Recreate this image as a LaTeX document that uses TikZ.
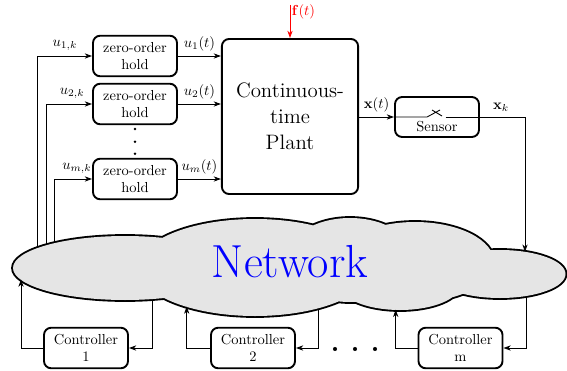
\documentclass[tikz,border=0pt]{standalone}
\usetikzlibrary{arrows.meta,positioning}

% lobes of the network cloud
\newcommand\netlobes{(125,102) ellipse [x radius=112,y radius=32]
 (255,102.5) ellipse [x radius=117,y radius=48.5]
 (350,110) ellipse [x radius=65,y radius=42]
 (415,108) ellipse [x radius=79,y radius=40]
 (400,85) ellipse [x radius=60,y radius=25]
 (500,96) ellipse [x radius=65.5,y radius=24]}

\begin{document}
\begin{tikzpicture}[x=0.69pt,y=0.69pt,>={Stealth[length=5pt,width=3.6pt,inset=1.5pt]},
 block/.style={draw,line width=1.3pt,rounded corners=5pt,align=center,minimum width=58pt,minimum height=28pt},
 flow/.style={->,line width=.6pt}]
\useasboundingbox (0,0) rectangle (567,370);

% hold elements and plant
\node[block] (zoh1) at (135,314) {zero-order\\hold};
\node[block] (zoh2) at (135,266) {zero-order\\hold};
\node[block] (zohm) at (135,191) {zero-order\\hold};
\foreach \y in {129,141.7,153.7} \fill (135,{370-\y}) circle (1pt);
\node[block,minimum width=94pt,minimum height=107pt,font=\Large] (plant) at (290,253.5) {Continuous-\\time\\Plant};
\node[block,minimum width=58pt,minimum height=27.6pt] (sensor) at (437,253) {\mbox{}\\[8pt]Sensor};

% controllers
\node[block] (ctrl1) at (86,22) {Controller\\1};
\node[block] (ctrl2) at (253,22) {Controller\\2};
\node[block] (ctrlm) at (460.5,22) {Controller\\m};
\foreach \x in {335,355,375} \fill (\x,21) circle (1.4pt);

% ports on the network
\coordinate (n1) at (37.7,105);
\coordinate (n2) at (46.7,105);
\coordinate (n3) at (54.3,105);
\coordinate (c1out) at (152.3,76);
\coordinate (c2out) at (318,75);
\coordinate (cmout) at (526.7,80);
\coordinate (c1in) at (21,90.5);
\coordinate (c2in) at (186.7,63.5);
\coordinate (cmin) at (395.7,60.3);
\coordinate (xk) at (525,118.2);
\coordinate (fin) at (290,365);

\draw[flow] (n1) |- node[above,pos=.75]{$u_{1,k}$} (zoh1.west);
\draw[flow] (n2) |- node[above,pos=.78]{$u_{2,k}$} (zoh2.west);
\draw[flow] (n3) |- node[above,pos=.8]{$u_{m,k}$} (zohm.west);
\draw[flow] (c1out) |- (ctrl1.east);
\draw[flow] (c2out) |- (ctrl2.east);
\draw[flow] (cmout) |- (ctrlm.east);

% network cloud: outline of all lobes, then the fill over it
\draw[line width=2.6pt] \netlobes;
\fill[black!10] \netlobes;
\node[font=\fontsize{32}{38}\selectfont,text=blue] (net) at (290,108) {Network};

\draw[flow] (ctrl1.west) -| (c1in);
\draw[flow] (ctrl2.west) -| (c2in);
\draw[flow] (ctrlm.west) -| (cmin);

% plant signals
\draw[flow] (zoh1.east) -- node[above]{$u_1(t)$} (zoh1.east -| plant.west);
\draw[flow] (zoh2.east) -- node[above]{$u_2(t)$} (zoh2.east -| plant.west);
\draw[flow] (zohm.east) -- node[above]{$u_m(t)$} (zohm.east -| plant.west);
\draw[flow,red] (fin) -- node[right,pos=.2,inner sep=1pt]{$\mathbf{f}(t)$} (plant.north);
\draw[flow] (plant.east |- sensor.west) -- node[above]{$\mathbf{x}(t)$} (sensor.west);
\draw[line width=.6pt] (sensor.west) -- ++(33,0) -- ++(13,7) (sensor.center) ++(-5,7) -- ++(10,-6);
\draw[flow] (sensor.center) ++(8.5,0) -| node[above,pos=.35]{$\mathbf{x}_k$} (xk);
\end{tikzpicture}
\end{document}
